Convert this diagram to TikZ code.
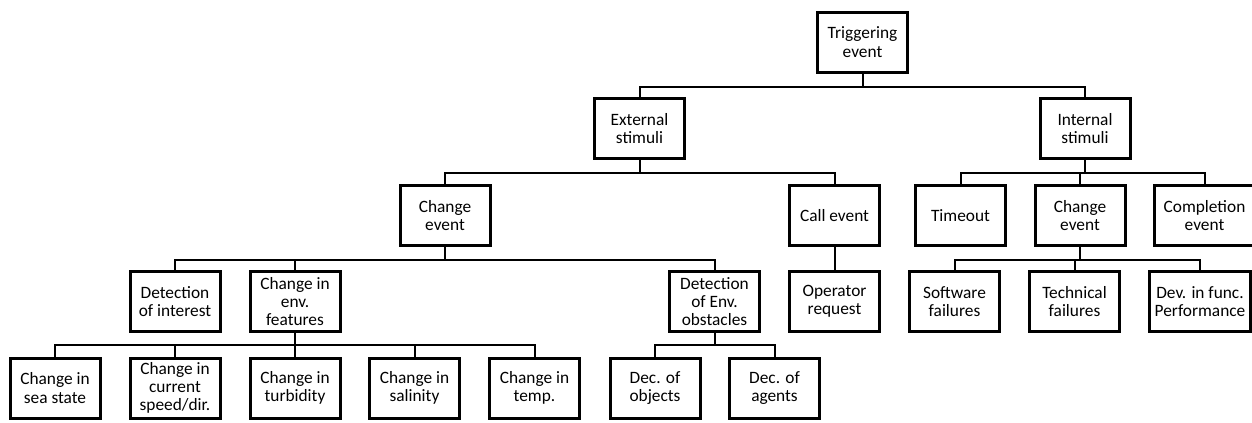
\documentclass[tikz,border=0pt]{standalone}
\usepackage{fontspec}
\setmainfont{Carlito}

\begin{document}
\begin{tikzpicture}[
        x=0.75pt, y=-0.75pt,
        box/.style={draw, line width=2.25pt, minimum width=67.5pt, minimum height=45pt,
            inner sep=1.5pt, align=center, font=\fontsize{13}{13.75}\selectfont},
        link/.style={line width=1.5pt},
    ]
    \useasboundingbox (0,0) rectangle (1252,422);

    % Root
    \node[box] (trig) at (862.5,42) {Triggering\\event};

    % Stimuli
    \node[box] (ext) at (639.5,128.5) {External\\stimuli};
    \node[box] (int) at (1085,128.5) {Internal\\stimuli};

    % Event types
    \node[box] (chg) at (445,215.5) {Change\\event};
    \node[box] (call) at (834.5,215.5) {Call event};
    \node[box] (tout) at (960.5,215.5) {Timeout};
    \node[box] (chgint) at (1080,215.5) {Change\\event};
    \node[box, minimum width=75pt] (compl) at (1204.5,215.5) {Completion\\event};

    % Causes
    \node[box] (detint) at (175,301.5) {Detection\\of interest};
    \node[box] (envfeat) at (295,301.5) {Change in\\env.\\features};
    \node[box] (obst) at (714.5,301.5) {Detection\\of Env.\\obstacles};
    \node[box] (oper) at (834.5,301.5) {Operator\\request};
    \node[box] (soft) at (954.5,301.5) {Software\\failures};
    \node[box] (tech) at (1074.5,301.5) {Technical\\failures};
    \node[box, minimum width=75.75pt] (devfunc) at (1200,301.5) {Dev. in func.\\Performance};

    % Details
    \node[box] (sea) at (55,388) {Change in\\sea state};
    \node[box] (curr) at (175,388) {Change in\\current\\speed/dir.};
    \node[box] (turb) at (295,388) {Change in\\turbidity};
    \node[box] (sal) at (414.5,388) {Change in\\salinity};
    \node[box] (temp) at (534.5,388) {Change in\\temp.};
    \node[box] (objs) at (655,388) {Dec. of\\objects};
    \node[box] (agents) at (774.5,388) {Dec. of\\agents};

    % Tree connectors
    \foreach \c in {ext,int}
        \draw[link] (trig.south) -- ++(0,13) -| (\c.north);
    \foreach \c in {chg,call}
        \draw[link] (ext.south) -- ++(0,13) -| (\c.north);
    \foreach \c in {tout,chgint,compl}
        \draw[link] (int.south) -- ++(0,13) -| (\c.north);
    \foreach \c in {detint,envfeat,obst}
        \draw[link] (chg.south) -- ++(0,13) -| (\c.north);
    \draw[link] (call.south) -- (oper.north);
    \foreach \c in {soft,tech,devfunc}
        \draw[link] (chgint.south) -- ++(0,13) -| (\c.north);
    \foreach \c in {sea,curr,turb,sal,temp}
        \draw[link] (envfeat.south) -- ++(0,12) -| (\c.north);
    \foreach \c in {objs,agents}
        \draw[link] (obst.south) -- ++(0,12) -| (\c.north);

\end{tikzpicture}
\end{document}
